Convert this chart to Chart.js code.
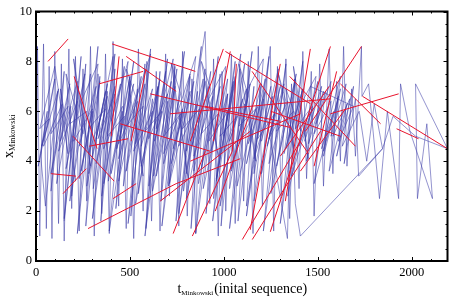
<!DOCTYPE html>
<html>
<head>
<meta charset="utf-8">
<script src="https://cdn.jsdelivr.net/npm/chart.js@4.4.0/dist/chart.umd.min.js"></script>
<style>
  body { margin: 0; background: #fff; }
  #wrap { width: 450px; height: 298px; position: relative; }
</style>
</head>
<body>
<div id="wrap"><canvas id="myChart"></canvas></div>
<script>
// blue path: t values (in drawing order)
const blueT = [
  0, 8, 20, 40, 55, 70, 85, 100, 120, 135, 150, 175, 190, 210, 230, 250, 270, 290, 310, 330,
  350, 370, 390, 410, 440, 460, 480, 500, 520, 545, 570, 590, 615, 640, 660, 690, 710, 735, 760, 780,
  805, 830, 850, 875, 900,
  925, 945, 970, 990, 1010, 1040, 1060, 1085, 1105, 1130, 1155, 1183, 1205, 1230, 1247, 1265, 1285, 1305, 1330, 1350,
  1375, 1400, 1420, 1440, 1465, 1480, 1510, 1530, 1560, 1580, 1600, 1620, 1637, 1655, 1680, 1700, 1732, 1735,
  1770, 1828, 1870, 1930, 1940, 1990, 2110, 2080, 2030, 2020, 2190, 2020, 1900, 1844, 1717,
  1700, 1640, 1690, 1600, 1655, 1560, 1620, 1520, 1585, 1480, 1540, 1440, 1500, 1400, 1470, 1360, 1420, 1320, 1385, 1280,
  1340, 1240, 1300, 1200, 1260, 1160, 1220, 1120, 1180, 1080, 1140, 1040, 1100, 1000, 1060, 960, 1020, 920, 980, 880,
  940, 840, 900, 800, 860, 760, 820, 720, 780, 680, 740, 640, 700, 600, 660, 560, 620, 520, 580, 480,
  540, 440, 500, 400, 460, 360, 420, 320, 380, 280, 340, 240, 300, 200, 260, 160, 220, 120, 180, 80,
  140, 40, 100, 12, 60, 25,
  50, 115, 80, 150, 110, 185, 150, 225, 190, 265, 230, 300, 265, 340, 305, 380, 345, 420, 385, 460,
  425, 500, 465, 540, 505, 580, 545, 620, 585, 660, 625, 700, 665, 740, 705, 780, 745, 820, 785, 860,
  825, 900, 865, 940, 905, 980, 945, 1020, 985, 1060, 1030, 1110, 1075, 1160, 1120, 1210, 1338, 1360, 1380, 1407,
  1844, 1800, 1760,
  1720, 1630, 1670, 1580, 1620, 1530, 1570, 1480, 1520, 1430, 1470, 1380, 1420, 1330, 1370, 1280, 1320, 1230, 1270, 1180,
  1220, 1130, 1170, 1080, 1120, 1030, 1070, 980, 1020, 930, 970, 880, 920, 830, 870, 780, 820, 730, 770, 680,
  720, 630, 670, 580, 620, 530, 570, 480, 520, 430, 470, 380, 420, 330, 370, 280, 320, 230, 270, 180,
  220, 130, 170, 80, 120, 30, 70, 20,
  100, 170, 130, 210, 160, 250, 200, 290, 240, 330, 280, 370, 320, 410, 360, 450, 400, 490, 440, 530,
  480, 570, 520, 610, 560, 650, 600, 690, 640, 730, 680, 770, 720, 810, 760, 850, 800, 890, 840, 930,
  880, 970, 920, 1010, 960, 1050, 1000, 1090, 1040, 1130, 1080, 1170, 1120, 1210, 1160, 1250, 1200, 1290, 1240, 1330,
  1290, 1370, 1330, 1410, 1370, 1450, 1410, 1490, 1450, 1530, 1490, 1570, 1530, 1610, 1570, 1650, 1610, 1690,
  1460, 1340, 1420, 1300, 1380, 1250, 1330, 1210, 1290, 1160, 1240, 1120, 1200, 1070, 1150, 1030, 1110, 980, 1060, 940,
  1020, 890, 970, 850, 930, 800, 880, 760, 840, 710, 790, 670, 750, 620, 700, 580, 650, 530, 610, 490,
  560, 440, 520, 390, 470, 350, 420, 300, 380, 270, 330, 220, 290, 180, 240, 150
];
// blue path: x values
const blueX = [
  1.2, 8.6, 1.0, 8.7, 1.3, 7.8, 0.9, 8.4, 1.5, 7.9, 0.8, 8.5, 2.1, 8.2, 1.2, 7.7, 2.4, 8.6, 1.0, 7.5,
  1.9, 8.3, 1.1, 8.8, 2.2, 8.1, 1.3, 7.4, 0.9, 8.5, 2.0, 8.0, 1.6, 7.6, 1.2, 8.3, 2.6, 7.9, 1.4, 8.4,
  1.8, 7.3, 1.1, 8.0, 9.2,
  2.3, 8.1, 1.0, 7.6, 2.0, 8.3, 1.5, 7.7, 2.4, 8.0, 1.1, 8.6, 2.2, 7.4, 8.6, 1.2, 7.8, 2.6, 8.1, 1.7,
  7.3, 2.9, 8.4, 3.3, 7.6, 1.8, 7.9, 3.0, 8.5, 3.5, 7.2, 4.0, 8.6, 3.8, 6.9, 4.2, 8.6, 6.6,
  7.1, 2.5, 6.0, 2.5, 7.1, 5.2, 2.5, 5.5, 2.5, 7.1, 4.5, 5.0, 5.8, 4.5, 3.4,
  6.5, 3.9, 7.0, 4.2, 6.3, 3.6, 7.4, 4.5, 6.0, 3.1, 6.8, 4.0, 7.2, 4.6, 6.1, 3.4, 6.9, 4.3, 7.5, 3.8,
  6.4, 4.9, 7.0, 3.5, 6.6, 4.1, 7.3, 3.9, 6.2, 4.7, 7.1, 3.6, 6.5, 4.4, 7.4, 3.3, 6.0, 4.8, 7.0, 3.7,
  6.6, 4.2, 7.2, 3.5, 6.3, 4.6, 7.5, 3.9, 6.1, 4.3, 7.0, 3.4, 6.7, 4.9, 7.3, 3.8, 6.0, 4.4, 7.1, 3.6,
  6.4, 4.7, 7.4, 3.5, 6.2, 4.5, 7.0, 3.9, 6.6, 4.3, 7.2, 3.6, 6.1, 4.8, 7.5, 3.7, 6.4, 4.4, 7.1, 3.5,
  6.3, 4.6, 7.3, 3.8, 6.0, 4.2,
  2.2, 6.8, 2.8, 7.6, 3.1, 6.2, 1.7, 7.0, 2.6, 7.9, 3.3, 6.0, 1.4, 7.4, 2.9, 6.8, 1.6, 7.7, 3.2, 6.0,
  2.1, 7.2, 3.0, 6.9, 1.8, 7.9, 2.7, 6.5, 1.3, 7.6, 3.4, 6.4, 2.4, 7.8, 3.0, 6.0, 1.6, 7.4, 2.8, 6.8,
  1.3, 7.7, 3.1, 6.2, 1.9, 7.5, 2.5, 6.7, 1.4, 7.2, 2.9, 6.3, 1.6, 7.0, 2.2, 6.5, 0.9, 7.1, 2.3, 1.0,
  4.5, 6.3, 4.0,
  6.0, 4.6, 6.5, 5.0, 6.9, 4.2, 6.4, 5.1, 7.0, 4.8, 6.2, 5.3, 6.9, 4.5, 6.0, 5.2, 7.1, 4.6, 5.9, 4.9,
  6.8, 4.7, 6.1, 5.4, 6.9, 4.8, 5.8, 5.0, 6.7, 4.4, 5.9, 5.1, 7.0, 4.6, 6.1, 5.3, 6.8, 4.5, 5.9, 5.0,
  7.2, 4.8, 6.0, 5.2, 6.9, 4.7, 6.2, 5.4, 7.1, 4.5, 5.8, 5.0, 6.7, 4.9, 6.1, 5.3, 7.0, 4.6, 6.0, 5.5,
  7.2, 4.8, 6.2, 5.1, 6.9, 4.6, 5.7, 5.3,
  7.8, 4.3, 6.9, 3.2, 7.5, 5.1, 8.1, 3.8, 6.4, 7.9, 3.5, 6.8, 4.9, 8.2, 3.1, 7.1, 5.6, 8.0, 4.1, 6.6,
  7.7, 3.4, 6.2, 8.3, 4.6, 7.0, 3.0, 7.6, 5.3, 8.1, 3.9, 6.7, 7.9, 3.3, 6.1, 8.2, 4.4, 7.3, 3.6, 6.9,
  8.0, 4.2, 6.5, 7.8, 3.2, 7.2, 5.0, 8.3, 3.7, 6.6, 7.9, 4.0, 6.8, 8.1, 3.5, 7.0, 4.8, 7.7, 3.9, 6.4,
  7.5, 4.5, 6.9, 5.2, 7.8, 4.1, 6.3, 7.4, 4.7, 6.8, 5.5, 7.2, 4.4, 6.6, 5.0, 7.1, 4.8, 6.2,
  7.0, 2.6, 8.0, 1.5, 7.3, 2.7, 7.9, 1.2, 7.5, 2.4, 8.2, 1.8, 7.1, 3.0, 8.4, 1.3, 7.9, 2.2, 8.0, 1.6,
  7.3, 2.9, 8.2, 1.1, 7.6, 2.5, 8.6, 1.9, 7.2, 3.1, 8.4, 1.4, 7.7, 2.8, 8.1, 1.0, 7.0, 2.3, 8.5, 1.5,
  7.4, 3.2, 8.0, 1.2, 7.8, 2.6, 8.3, 1.7, 7.1, 3.0, 8.6, 1.1, 7.5, 2.4, 8.2, 1.6
];

// red segments (null = break between segments)
const redT = [
  64, 171, null, 80, 213, null, 144, 267, null, 203, 325, null, 197, 416, null,
  277, 746, 1087, null, 405, 848, null, 336, 570, null, 480, 746, null, 586, 506, null,
  442, 400, null, 997, 821, null, 1034, 944, null, 1008, 1461, null, 730, 901, null,
  832, 1045, 1066, null, 1098, 1407, null, 1151, 1514, null, 1247, 1567, null, 1732, 1434, null,
  1738, 2190, null, 1567, 1930, null, 1919, 2036, null, 608, 1354, null, 714, 1567, null,
  821, 1407, null, 661, 1140, null, 448, 927, null, 1194, 954, null, 1300, 1140, null,
  1460, 1327, null, 1620, 1834, null, 1647, 1407, null, 283, 490, null, 410, 533, null,
  1350, 1700, null, 1480, 1600, null, 1250, 1620, null, 1300, 1560, null, 900, 1300, null,
  1150, 1450
];
const redX = [
  8.0, 8.9, null, 3.5, 3.4, null, 2.7, 3.7, null, 7.4, 4.5, null, 5.0, 3.2, null,
  1.3, 3.1, 4.1, null, 8.7, 7.6, null, 7.1, 7.6, null, 8.2, 6.8, null, 7.7, 4.8, null,
  8.2, 5.0, null, 8.5, 4.8, null, 8.4, 4.8, null, 8.4, 6.3, null, 1.1, 4.4, null,
  1.0, 4.4, 7.9, null, 0.86, 4.8, null, 0.86, 5.2, null, 1.17, 8.6, null, 8.6, 5.2, null,
  6.6, 4.5, null, 5.9, 6.7, null, 5.3, 4.9, null, 6.7, 5.35, null, 5.9, 6.5, null,
  4.0, 5.9, null, 2.4, 5.2, null, 5.5, 4.4, null, 7.1, 2.0, null, 7.9, 1.25, null,
  8.5, 2.4, null, 7.1, 5.5, null, 6.1, 3.6, null, 4.6, 4.9, null, 2.5, 3.1, null,
  7.4, 4.6, null, 3.8, 7.6, null, 6.0, 5.0, null, 4.2, 7.0, null, 6.2, 5.6, null,
  7.6, 4.3
];

const xTicks = [0, 500, 1000, 1500, 2000];
const yTicks = [0, 2, 4, 6, 8, 10];

const toPoints = (ts, xs) => ts.map((t, i) => ({ x: t === null ? 0 : t, y: xs[i] }));

// frame with inward ticks on all four sides + axis titles with subscripts
const framePlugin = {
  id: 'frame',
  afterDraw(chart) {
    const { ctx, chartArea: a, scales } = chart;
    const sx = scales.x, sy = scales.y;
    ctx.save();
    ctx.strokeStyle = '#000';
    ctx.lineWidth = 1;
    ctx.beginPath();
    for (let v = 0; v <= sx.max; v += 100) {
      const px = Math.round(sx.getPixelForValue(v)) + 0.5;
      const len = v % 500 === 0 ? 4 : 2;
      ctx.moveTo(px, a.bottom); ctx.lineTo(px, a.bottom - len);
      ctx.moveTo(px, a.top); ctx.lineTo(px, a.top + len);
    }
    for (let v = 0; v <= sy.max; v += 0.5) {
      const py = Math.round(sy.getPixelForValue(v)) + 0.5;
      const len = v % 2 === 0 ? 4 : 2;
      ctx.moveTo(a.left, py); ctx.lineTo(a.left + len, py);
      ctx.moveTo(a.right, py); ctx.lineTo(a.right - len, py);
    }
    ctx.stroke();
    ctx.lineWidth = 2;
    ctx.strokeRect(a.left, a.top, a.right - a.left, a.bottom - a.top);

    ctx.fillStyle = '#000';
    ctx.textBaseline = 'alphabetic';
    ctx.textAlign = 'left';
    // x title
    const main = '14px "Liberation Serif"', sub = '7px "Liberation Serif"';
    ctx.font = main; const wt = ctx.measureText('t').width;
    const wRest = ctx.measureText('(inital sequence)').width;
    ctx.font = sub; const wSub = ctx.measureText('Minkowski').width;
    let x0 = (a.left + a.right) / 2 - (wt + wSub + wRest) / 2;
    const base = 293;
    ctx.font = main; ctx.fillText('t', x0, base);
    ctx.font = sub; ctx.fillText('Minkowski', x0 + wt, base + 2);
    ctx.font = main; ctx.fillText('(inital sequence)', x0 + wt + wSub + 1, base);
    // y title
    ctx.translate(13, (a.top + a.bottom) / 2);
    ctx.rotate(-Math.PI / 2);
    ctx.font = main; const wx = ctx.measureText('x').width;
    ctx.font = '8px "Liberation Serif"'; const wy = ctx.measureText('Minkowski').width;
    const y0 = -(wx + wy) / 2;
    ctx.font = main; ctx.fillText('x', y0, 0);
    ctx.font = '8px "Liberation Serif"'; ctx.fillText('Minkowski', y0 + wx, 2);
    ctx.restore();
  }
};

const ctx = document.getElementById('myChart').getContext('2d');
const myChart = new Chart(ctx, {
  type: 'scatter',
  data: {
    datasets: [
      {
        label: 'red',
        data: toPoints(redT, redX),
        showLine: true,
        borderColor: 'rgb(232, 20, 45)',
        borderWidth: 1,
        pointRadius: 0,
        spanGaps: false,
        order: 0
      },
      {
        label: 'blue',
        data: toPoints(blueT, blueX),
        showLine: true,
        borderColor: 'rgba(55, 55, 165, 0.68)',
        borderWidth: 0.8,
        pointRadius: 0,
        order: 1
      }
    ]
  },
  options: {
    responsive: true,
    maintainAspectRatio: false,
    animation: false,
    layout: { padding: { top: 6, right: 2.5, left: 0, bottom: 0 } },
    plugins: {
      legend: { display: false },
      tooltip: { enabled: false }
    },
    scales: {
      x: {
        type: 'linear',
        min: 0,
        max: 2190,
        grid: { display: false, drawTicks: false },
        border: { display: false },
        afterBuildTicks: (s) => { s.ticks = xTicks.map(v => ({ value: v })); },
        afterFit: (s) => { s.height = 37; },
        ticks: {
          padding: 4,
          color: '#000',
          font: { family: 'Liberation Serif', size: 12.5 },
          callback: (v) => String(v)
        }
      },
      y: {
        type: 'linear',
        min: 0,
        max: 10,
        grid: { display: false, drawTicks: false },
        border: { display: false },
        afterBuildTicks: (s) => { s.ticks = yTicks.map(v => ({ value: v })); },
        afterFit: (s) => { s.width = 36; },
        ticks: {
          padding: 4,
          color: '#000',
          font: { family: 'Liberation Serif', size: 12.5 },
          callback: (v) => String(v)
        }
      }
    }
  },
  plugins: [framePlugin]
});
</script>
</body>
</html>
